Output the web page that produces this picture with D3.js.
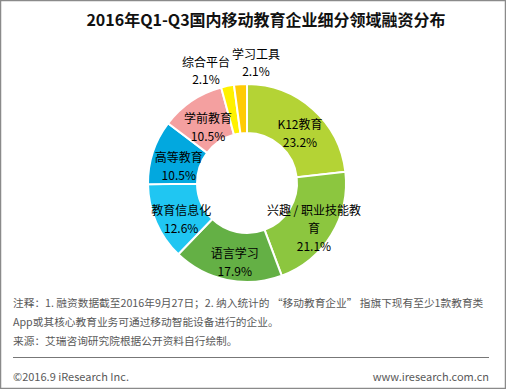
<!DOCTYPE html>
<html>
<head>
<meta charset="utf-8">
<script src="https://cdn.jsdelivr.net/npm/d3@7"></script>
<style>
  body { margin: 0; background: #fff; }
  svg { display: block; font-family: "Noto Sans CJK SC", "Noto Sans", sans-serif; }
</style>
</head>
<body>
<svg id="chart" width="506" height="389"></svg>
<script>
// categories and shares (%), clockwise from 12 o'clock
const categories = ['K12教育', '兴趣 / 职业技能教育', '语言学习', '教育信息化', '高等教育', '学前教育', '综合平台', '学习工具']
const shares = [23.2, 21.1, 17.9, 12.6, 10.5, 10.5, 2.1, 2.1]
const colors = ['#b4d335', '#8cc63f', '#64b045', '#20c6f2', '#02a8df', '#f4a0a0', '#fff100', '#ffcb05']

const title = '2016年Q1-Q3国内移动教育企业细分领域融资分布'
const notes = [
  '注释：1. 融资数据截至2016年9月27日；2. 纳入统计的 “移动教育企业” 指旗下现有至少1款教育类',
  'App或其核心教育业务可通过移动智能设备进行的企业。',
  '来源：艾瑞咨询研究院根据公开资料自行绘制。'
]
const footLeft = '©2016.9 iResearch Inc.'
const footRight = 'www.iresearch.com.cn'

const W = 506, H = 389
const svg = d3.select('#chart')

// frame
svg.append('rect')
  .attr('x', 0.5).attr('y', 0.5)
  .attr('width', W - 1).attr('height', H - 1)
  .attr('fill', 'none')
  .attr('stroke', '#8a8a8a')
  .attr('stroke-width', 1.5)

svg.append('text')
  .attr('x', 266).attr('y', 26)
  .attr('text-anchor', 'middle')
  .style('font-size', '16px')
  .style('font-weight', 'bold')
  .style('fill', '#111')
  .text(title)

const cx = 247, cy = 183
const outerR = 99, innerR = 50

const data = categories.map((c, i) => ({ name: c, value: shares[i], color: colors[i] }))

const pie = d3.pie().value(d => d.value).sort(null)
const arcs = pie(data)
const arc = d3.arc().innerRadius(innerR).outerRadius(outerR)
const labelArc = d3.arc().innerRadius(75).outerRadius(75)

const g = svg.append('g').attr('transform', `translate(${cx},${cy})`)

g.selectAll('path')
  .data(arcs)
  .join('path')
  .attr('d', arc)
  .attr('fill', d => d.data.color)
  .attr('stroke', '#fff')
  .attr('stroke-width', 2)

// wrap a label into lines no wider than maxW
function wrapLines(text, maxW) {
  const probe = g.append('text').style('font-size', '12px')
  let lines = [], cur = ''
  for (const ch of text) {
    probe.text(cur + ch)
    if (probe.node().getComputedTextLength() > maxW && cur.length) {
      lines.push(cur)
      cur = ch
    } else {
      cur += ch
    }
  }
  lines.push(cur)
  probe.remove()
  return lines
}

const lineH = 18
const inside = arcs.filter(d => d.data.value >= 5)
const outside = arcs.filter(d => d.data.value < 5)

inside.forEach(d => {
  let [x, y] = labelArc.centroid(d)
  x += 3
  y += 7
  const lines = wrapLines(d.data.name, 96).concat([d.data.value.toFixed(1) + '%'])
  const top = y - (lines.length - 1) * lineH / 2
  const t = g.append('text')
    .attr('text-anchor', 'middle')
    .style('font-size', '12px')
    .style('fill', '#000')
  lines.forEach((l, i) => {
    t.append('tspan')
      .attr('x', x)
      .attr('y', top + i * lineH + 4)
      .text(l)
  })
})

// small slices: labels outside, spread apart horizontally
const outR = 122
const outPos = outside.map(d => {
  const a = (d.startAngle + d.endAngle) / 2
  return { d: d, x: outR * Math.sin(a), y: -outR * Math.cos(a) }
})
const mid = d3.mean(outPos, p => p.x)
const gap = 50
outPos.forEach((p, i) => {
  p.x = mid + (i - (outPos.length - 1) / 2) * gap
  p.y = p.y + (i - (outPos.length - 1) / 2) * -6
})
outPos.forEach(p => {
  const t = g.append('text')
    .attr('text-anchor', 'middle')
    .style('font-size', '12px')
    .style('fill', '#000')
  t.append('tspan').attr('x', p.x).attr('y', p.y + 1).text(p.d.data.name)
  t.append('tspan').attr('x', p.x).attr('y', p.y + 18).text(p.d.data.value.toFixed(1) + '%')
})

// notes
svg.selectAll('text.note')
  .data(notes)
  .join('text')
  .attr('class', 'note')
  .attr('x', 13)
  .attr('y', (d, i) => 307 + i * 19)
  .style('font-size', '10.7px')
  .style('fill', '#595959')
  .text(d => d)

svg.append('line')
  .attr('x1', 13).attr('x2', 489)
  .attr('y1', 357.5).attr('y2', 357.5)
  .attr('stroke', '#777')
  .attr('stroke-width', 1)

svg.append('text')
  .attr('x', 13).attr('y', 381)
  .style('font-size', '11px')
  .style('fill', '#595959')
  .text(footLeft)

svg.append('text')
  .attr('x', 489).attr('y', 381)
  .attr('text-anchor', 'end')
  .style('font-size', '11px')
  .style('fill', '#595959')
  .text(footRight)
</script>
</body>
</html>
